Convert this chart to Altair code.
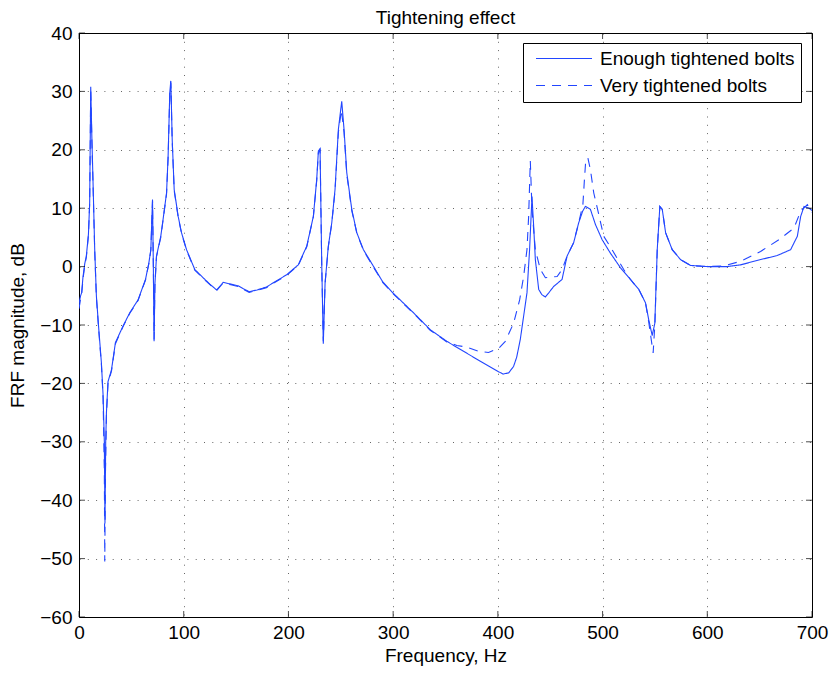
import altair as alt
import pandas as pd

# ---- data ----
solid_freq = [0, 1.5, 2.5, 3.8, 5.5, 7, 9, 10.2, 11.2, 12.3, 13.4, 15, 16.6, 18.8, 21.4, 23, 24.2, 24.8, 25.5,
              26.2, 27.7, 31, 34.8, 42, 48.5, 56.4, 63.5, 66.7, 68.6, 70.2, 71, 71.7, 72.5, 74, 78.1, 80.3,
              83.6, 85.1, 86.7, 87.7, 89, 90.9, 94.7, 97.9, 102.7, 110.6, 120.2, 125, 131.4, 137.7, 145,
              152, 157, 162.5, 170, 179, 188, 198.3, 209.4, 217.5, 223.8, 227, 228.6, 230.2, 231.8, 233.3,
              235, 238.1, 241.4, 244.5, 247.7, 250.9, 253.1, 255.7, 260.5, 265.3, 271.6, 281.2, 290, 300.3,
              319.4, 335.4, 351.3, 367.2, 383.2, 400.7, 405, 410.3, 415, 418, 421.4, 424.6, 427.8, 430.3,
              432.6, 434.2, 435.8, 439, 442, 445.4, 449, 453.3, 461.3, 466.1, 472.4, 477.2, 481, 483.6,
              488.4, 493.2, 499.6, 507.5, 517.1, 526.6, 534.6, 541, 544.1, 547.4, 549.9, 552.2, 554.7, 557,
              560.2, 566.5, 574.5, 584, 600, 619, 631.8, 650.9, 666.9, 679.6, 686, 689.2, 692.4, 697.2, 700]
solid_db = [-6.3, -5.0, -4.5, -1.8, 0.5, 1.8, 5.5, 11, 30.8, 22, 14.5, 3, -5.0, -10.5, -16.5, -22, -30, -44, -30,
            -25, -19.7, -17.7, -13, -10.2, -7.9, -5.7, -2.2, 0.6, 2.9, 11.5, 0, -12.8, -3, 1.8, 5.2, 8.1,
            12.6, 18.9, 29.8, 31.8, 21.8, 13.2, 8.6, 5.8, 2.9, -0.5, -2.2, -3.0, -4.0, -2.7, -3.0,
            -3.3, -3.8, -4.3, -4.0, -3.5, -2.5, -1.4, 0.3, 3.5, 8.6, 14.9, 19.8, 20.2, 0.6, -13.2,
            -2.8, 3.5, 7.5, 13.2, 23.5, 28.3, 23.5, 16.1, 9.8, 5.8, 2.9, 0.05, -2.6, -4.6,
            -7.9, -10.8, -12.8, -14.5, -16.2, -18.0, -18.4, -18.2, -17.1, -15.5, -12.5, -8.5, -4.5, 2.9,
            12.0, 6.9, 1.2, -3.9, -4.8, -5.2, -4.4, -3.4, -2.2, 1.8, 4.1, 7.5, 9.5, 10.3,
            9.8, 7.2, 4.6, 2.3, -0.2, -2.2, -3.9, -6.2, -9.1, -11.8, -9.7, 2.9, 10.3, 9.8,
            5.8, 2.9, 1.2, 0.2, 0.0, 0.0, 0.3, 1.2, 1.9, 2.9, 5.2, 8.6, 10.3, 10.0, 9.6]

dashed_freq = [0, 1.5, 2.5, 3.8, 5.5, 7, 9, 10.2, 11.2, 12.3, 13.4, 15, 16.6, 18.8, 21.4, 23, 24.2, 24.6, 25.3,
               26.2, 27.7, 31, 34.8, 42, 48.5, 56.4, 63.5, 66.7, 68.6, 70.2, 71, 71.7, 72.5, 74, 78.1, 80.3,
               83.6, 85.1, 86.7, 87.7, 89, 90.9, 94.7, 97.9, 102.7, 110.6, 120.2, 125, 131.4, 137.7, 145,
               152, 157, 162.5, 170, 179, 188, 198.3, 209.4, 217.5, 223.8, 227, 228.6, 230.2, 231.8, 233.3,
               235, 238.1, 241.4, 244.5, 247.7, 250.6, 253.1, 255.7, 260.5, 265.3, 271.6, 281.2, 290, 300.3,
               319.4, 335.4, 351.3, 360.9, 370.5, 381.6, 391.1, 400.7, 407.1, 415, 420.8, 424.6, 427.8,
               429.4, 431, 432.6, 435.8, 440.6, 445.4, 456.6, 461.3, 466.1, 472.4, 477.2, 481.2, 482.5,
               484, 486, 488.4, 491.6, 496.4, 501.1, 509.1, 520.2, 526.6, 534.6, 541, 544.1, 548.3, 550,
               552.2, 554.7, 557, 560.2, 566.5, 574.5, 584, 600, 615, 631.8, 650.9, 668.4, 682.8, 689.2,
               695.6, 700]
dashed_db = [-7.2, -5.6, -4.8, -2.2, 0.2, 1.6, 5.3, 10.8, 30.5, 21.5, 14.0, 2.6, -5.3, -10.8, -16.8, -22.5, -35, -50.5, -35,
             -25.5, -20, -17.9, -13.2, -10.3, -8.0, -5.8, -2.3, 0.5, 2.8, 11.2, 0, -12.5, -3.2, 1.7, 5.0, 8.0,
             12.4, 18.6, 29.5, 31.5, 21.5, 13.0, 8.5, 5.7, 2.8, -0.6, -2.3, -3.1, -4.1, -2.8, -3.1,
             -3.4, -3.9, -4.4, -4.1, -3.6, -2.6, -1.5, 0.2, 3.4, 8.5, 14.7, 19.5, 20.0, 0.4, -12.8,
             -2.9, 3.4, 7.4, 13.0, 23.0, 26.8, 23.0, 15.8, 9.6, 5.7, 2.8, -0.1, -2.7, -4.7,
             -8.0, -10.9, -12.9, -13.5, -13.8, -14.5, -14.7, -14.0, -12.8, -9.7, -5.7, -1.7, 2.9,
             8.6, 18.1, 9.8, 2.9, -0.5, -1.9, -1.7, -0.5, 1.8, 4.1, 7.5, 10.6, 14.4,
             18.4, 18.6, 16.6, 12.6, 8.9, 5.2, 2.9, -0.5, -2.2, -3.9, -6.2, -9.5, -14.8, -9.7,
             2.9, 10.3, 9.8, 5.8, 2.9, 1.2, 0.2, 0.0, 0.1, 0.9, 2.6, 4.6, 6.6, 9.5,
             10.6, 9.3]

series_names = ["Enough tightened bolts", "Very tightened bolts"]
x_ticks = [0, 100, 200, 300, 400, 500, 600, 700]
y_ticks = [-60, -50, -40, -30, -20, -10, 0, 10, 20, 30, 40]

BLUE = "#2246ff"
FONT = "Liberation Sans"
W, H = 733, 584

df = pd.concat([
    pd.DataFrame({"freq": solid_freq, "db": solid_db, "series": series_names[0]}),
    pd.DataFrame({"freq": dashed_freq, "db": dashed_db, "series": series_names[1]}),
], ignore_index=True)
df["order"] = range(len(df))

xscale = alt.Scale(domain=[0, 700], nice=False, zero=False)
yscale = alt.Scale(domain=[-60, 40], nice=False, zero=False)

xaxis = alt.Axis(values=x_ticks, title="Frequency, Hz", grid=True, ticks=False, domain=False,
                 labelFlush=False, labelPadding=6, titlePadding=4)
yaxis = alt.Axis(values=y_ticks, title="FRF magnitude, dB", grid=True, ticks=False, domain=False,
                 labelFlush=False, labelPadding=7, titlePadding=12)

lines = alt.Chart(df).mark_line(strokeWidth=1.1, clip=True).encode(
    x=alt.X("freq:Q", scale=xscale, axis=xaxis),
    y=alt.Y("db:Q", scale=yscale, axis=yaxis),
    color=alt.Color("series:N", scale=alt.Scale(domain=series_names, range=[BLUE, BLUE]),
                    legend=alt.Legend(title=None)),
    strokeDash=alt.StrokeDash("series:N", scale=alt.Scale(domain=series_names, range=[[1, 0], [9, 7]]),
                              legend=alt.Legend(title=None)),
    order="order:Q",
)

xt = pd.DataFrame({"freq": x_ticks})
yt = pd.DataFrame({"db": y_ticks})
xtick_bottom = alt.Chart(xt).mark_tick(orient="vertical", size=6, thickness=1, color="black").encode(
    x=alt.X("freq:Q", scale=xscale), y=alt.value(H - 3))
xtick_top = alt.Chart(xt).mark_tick(orient="vertical", size=6, thickness=1, color="black").encode(
    x=alt.X("freq:Q", scale=xscale), y=alt.value(3))
ytick_left = alt.Chart(yt).mark_tick(orient="horizontal", size=6, thickness=1, color="black").encode(
    y=alt.Y("db:Q", scale=yscale), x=alt.value(3))
ytick_right = alt.Chart(yt).mark_tick(orient="horizontal", size=6, thickness=1, color="black").encode(
    y=alt.Y("db:Q", scale=yscale), x=alt.value(W - 3))

chart = alt.layer(lines, xtick_bottom, xtick_top, ytick_left, ytick_right).properties(
    width=W, height=H,
    title=alt.TitleParams("Tightening effect", font=FONT, fontSize=19, fontWeight="normal",
                          color="black", offset=-4, anchor="middle"),
    autosize=alt.AutoSizeParams(type="none"),
    padding={"left": 79, "top": 33, "right": 24, "bottom": 56},
    background="white",
).configure_view(
    stroke="black", strokeWidth=1
).configure_axis(
    labelFont=FONT, labelFontSize=19, labelColor="black",
    titleFont=FONT, titleFontSize=19, titleFontWeight="normal", titleColor="black",
    gridColor="black", gridOpacity=0.6, gridDash=[1, 7.3], gridWidth=1,
).configure_legend(
    orient="none", legendX=444, legendY=10,
    strokeColor="black", fillColor="white", padding=6, cornerRadius=0,
    symbolType="stroke", symbolSize=3136, symbolStrokeWidth=1.2, symbolOffset=6,
    clipHeight=19,
    labelFont=FONT, labelFontSize=19, labelColor="black", labelOffset=7, rowPadding=7,
    labelLimit=400,
)

chart.save("out.html", embed_options={"renderer": "svg", "actions": False})
